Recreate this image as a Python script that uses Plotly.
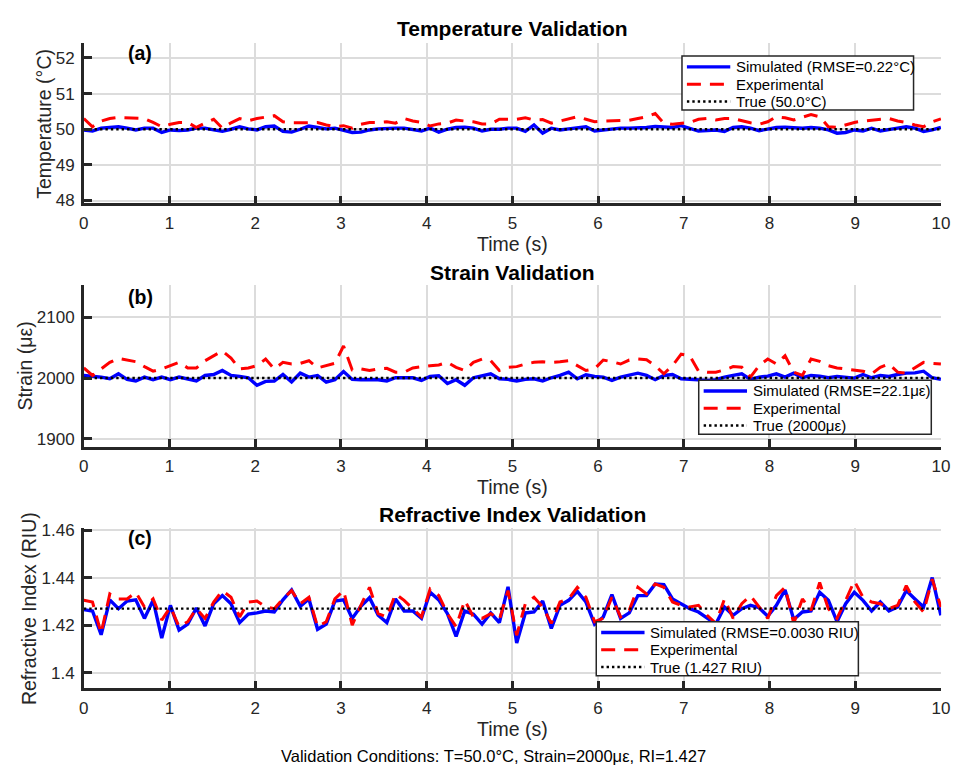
import numpy as np
import plotly.graph_objects as go

# Time base: 100 samples over 10 s
time_s = np.linspace(0, 10, 100)

# Temperature (°C)
temp_true = 50.0
temp_sim = [49.98, 49.95, 50.03, 50.05, 50.07, 50.03, 49.98, 50.03, 50.03, 49.91,
            49.98, 49.96, 49.98, 50.03, 50.03, 49.98, 49.94, 50.00, 50.07, 50.01,
            49.98, 50.07, 50.09, 49.94, 49.92, 50.00, 50.09, 50.05, 50.01, 50.03,
            49.98, 49.91, 49.92, 49.98, 50.01, 50.03, 50.03, 50.03, 49.98, 49.95,
            50.03, 49.92, 50.00, 50.05, 50.06, 50.03, 49.95, 50.00, 50.00, 50.03,
            50.03, 49.94, 50.12, 49.89, 50.03, 49.98, 50.01, 50.05, 50.07, 49.95,
            49.98, 50.01, 50.03, 50.03, 50.03, 50.05, 50.08, 50.07, 50.05, 50.10,
            50.03, 49.95, 49.96, 49.98, 49.94, 50.05, 50.07, 50.03, 49.96, 50.01,
            50.05, 50.06, 50.05, 50.03, 50.05, 50.03, 49.98, 49.89, 49.91, 49.98,
            49.95, 50.03, 49.95, 50.00, 50.03, 50.07, 50.03, 49.94, 49.98, 50.05]
temp_exp = [50.30, 50.07, 50.23, 50.30, 50.33, 50.32, 50.33, 50.30, 50.19, 50.07,
            50.14, 50.19, 50.19, 50.05, 50.17, 50.28, 50.03, 50.18, 50.30, 50.24,
            50.30, 50.35, 50.38, 50.21, 50.18, 50.18, 50.19, 50.19, 50.12, 50.07,
            50.10, 50.03, 50.14, 50.19, 50.19, 50.21, 50.17, 50.30, 50.23, 50.19,
            50.09, 50.15, 50.17, 50.26, 50.23, 50.21, 50.15, 50.15, 50.28, 50.28,
            50.28, 50.32, 50.26, 50.27, 50.17, 50.23, 50.28, 50.35, 50.28, 50.21,
            50.23, 50.23, 50.23, 50.25, 50.30, 50.35, 50.44, 50.17, 50.14, 50.17,
            50.19, 50.28, 50.30, 50.26, 50.30, 50.30, 50.23, 50.18, 50.14, 50.21,
            50.35, 50.32, 50.26, 50.33, 50.41, 50.35, 50.07, 50.05, 50.12, 50.19,
            50.23, 50.26, 50.29, 50.30, 50.23, 50.19, 50.12, 50.07, 50.21, 50.29]

# Strain (µε)
strain_true = 2000
strain_sim = [2004.3, 2003.2, 2001.6, 1998.9, 2007.0, 1997.8, 1995.2, 2001.6, 1997.3, 2001.6,
              1997.3, 2001.6, 1997.8, 1995.2, 2004.3, 2005.9, 2012.4, 2004.3, 2002.7, 2000.5,
              1988.2, 1994.6, 1995.2, 2005.9, 1993.5, 2008.1, 2001.6, 2004.3, 1993.5, 1997.3,
              2010.8, 1997.8, 1997.3, 1997.3, 1997.3, 1995.2, 2000.5, 2000.5, 2000.5, 1996.2,
              2002.7, 2003.8, 1990.9, 1997.3, 1988.2, 2000.5, 2004.3, 2007.0, 1998.9, 1997.8,
              1995.2, 1997.8, 1998.9, 1995.2, 2000.5, 2004.3, 2009.7, 1998.9, 2005.4, 2002.7,
              2001.6, 1996.2, 2001.6, 2004.3, 2008.1, 2004.3, 1997.3, 2004.3, 2005.9, 1998.9,
              1997.8, 1997.3, 1996.2, 1997.3, 2001.6, 2004.3, 2007.0, 1997.8, 2001.6, 2003.2,
              2007.0, 2001.6, 2008.1, 2000.5, 2004.3, 2003.2, 2000.5, 2002.7, 2001.6, 2000.0,
              2005.9, 2000.5, 2004.3, 2002.7, 2005.9, 2008.1, 2008.6, 2011.3, 2000.5, 1997.8]
strain_exp = [2016.7, 2004.3, 2015.0, 2025.8, 2032.3, 2029.6, 2026.9, 2018.8, 2011.3, 2015.1,
              2020.4, 2025.8, 2016.7, 2016.7, 2028.5, 2036.6, 2044.6, 2032.8, 2015.1, 2016.7,
              2020.4, 2031.2, 2015.1, 2025.8, 2023.1, 2024.2, 2028.5, 2016.7, 2020.4, 2024.2,
              2052.7, 2013.4, 2015.1, 2012.4, 2015.1, 2016.1, 2009.7, 2009.7, 2016.7, 2018.8,
              2020.4, 2021.5, 2025.8, 2017.7, 2012.4, 2025.8, 2031.2, 2028.5, 2012.4, 2017.7,
              2018.8, 2023.1, 2025.8, 2026.9, 2025.8, 2026.9, 2028.5, 2020.4, 2012.4, 2015.1,
              2029.6, 2026.9, 2023.1, 2029.6, 2031.2, 2030.1, 2020.4, 2007.0, 2020.4, 2039.2,
              2036.6, 2011.3, 2009.7, 2009.7, 2013.4, 2018.8, 2017.7, 2001.6, 2020.4, 2031.2,
              2023.1, 2036.6, 2009.7, 2004.3, 2031.2, 2027.4, 2020.4, 2016.7, 2015.1, 2013.4,
              2011.3, 2007.0, 2017.7, 2023.1, 2009.7, 2008.1, 2016.7, 2025.8, 2024.2, 2023.1]

# Refractive index (RIU)
ri_true = 1.427
ri_sim = [1.4266, 1.4260, 1.4160, 1.4307, 1.4270, 1.4302, 1.4307, 1.4229, 1.4305, 1.4146,
          1.4284, 1.4180, 1.4205, 1.4273, 1.4197, 1.4291, 1.4325, 1.4291, 1.4211, 1.4247,
          1.4252, 1.4260, 1.4256, 1.4307, 1.4349, 1.4280, 1.4311, 1.4183, 1.4205, 1.4302,
          1.4307, 1.4229, 1.4280, 1.4316, 1.4242, 1.4211, 1.4311, 1.4260, 1.4260, 1.4229,
          1.4339, 1.4307, 1.4249, 1.4153, 1.4260, 1.4247, 1.4205, 1.4252, 1.4211, 1.4362,
          1.4125, 1.4252, 1.4256, 1.4302, 1.4187, 1.4284, 1.4305, 1.4343, 1.4298, 1.4205,
          1.4235, 1.4329, 1.4229, 1.4252, 1.4325, 1.4325, 1.4374, 1.4371, 1.4311, 1.4291,
          1.4270, 1.4256, 1.4229, 1.4205, 1.4277, 1.4242, 1.4270, 1.4284, 1.4274, 1.4238,
          1.4284, 1.4349, 1.4224, 1.4256, 1.4260, 1.4339, 1.4305, 1.4215, 1.4291, 1.4339,
          1.4305, 1.4260, 1.4298, 1.4260, 1.4277, 1.4346, 1.4311, 1.4277, 1.4401, 1.4242]
ri_exp = [1.4305, 1.4298, 1.4166, 1.4332, 1.4311, 1.4311, 1.4339, 1.4277, 1.4311, 1.4222,
          1.4277, 1.4194, 1.4215, 1.4270, 1.4229, 1.4298, 1.4346, 1.4318, 1.4235, 1.4298,
          1.4302, 1.4277, 1.4270, 1.4311, 1.4346, 1.4291, 1.4318, 1.4194, 1.4215, 1.4311,
          1.4346, 1.4201, 1.4284, 1.4360, 1.4249, 1.4235, 1.4332, 1.4305, 1.4270, 1.4235,
          1.4353, 1.4325, 1.4249, 1.4194, 1.4305, 1.4235, 1.4229, 1.4249, 1.4224, 1.4346,
          1.4158, 1.4291, 1.4318, 1.4277, 1.4208, 1.4298, 1.4311, 1.4360, 1.4318, 1.4215,
          1.4229, 1.4318, 1.4235, 1.4263, 1.4360, 1.4332, 1.4374, 1.4360, 1.4298, 1.4284,
          1.4277, 1.4284, 1.4242, 1.4208, 1.4311, 1.4229, 1.4291, 1.4325, 1.4277, 1.4229,
          1.4325, 1.4360, 1.4208, 1.4311, 1.4263, 1.4380, 1.4270, 1.4229, 1.4305, 1.4387,
          1.4318, 1.4298, 1.4291, 1.4270, 1.4284, 1.4367, 1.4298, 1.4256, 1.4394, 1.4277]

panels = [
    dict(sim=temp_sim, exp=temp_exp, true=temp_true,
         names=["Simulated (RMSE=0.22°C)", "Experimental", "True (50.0°C)"],
         title="Temperature Validation", ylabel="Temperature (°C)", tag="(a)",
         yrange=[47.92, 52.41], yticks=[48, 49, 50, 51, 52], yticktext=None),
    dict(sim=strain_sim, exp=strain_exp, true=strain_true,
         names=["Simulated (RMSE=22.1με)", "Experimental", "True (2000με)"],
         title="Strain Validation", ylabel="Strain (με)", tag="(b)",
         yrange=[1887, 2153], yticks=[1900, 2000, 2100], yticktext=None),
    dict(sim=ri_sim, exp=ri_exp, true=ri_true,
         names=["Simulated (RMSE=0.0030 RIU)", "Experimental", "True (1.427 RIU)"],
         title="Refractive Index Validation", ylabel="Refractive Index (RIU)", tag="(c)",
         yrange=[1.3934, 1.4608], yticks=[1.40, 1.42, 1.44, 1.46],
         yticktext=["1.4", "1.42", "1.44", "1.46"]),
]

W, H = 960, 774
FONT = "Liberation Sans, Arial, sans-serif"
INK = "#262626"
GRID = "#dcdcdc"

SIM_LINE = dict(color="#0000ff", width=3.4)
EXP_LINE = dict(color="#ff0000", width=3, dash="14px,9px")
TRUE_LINE = dict(color="black", width=2.4, dash="2.4px,3px")

# pixel layout of each axes box: (top, bottom); shared left/right
x_left, x_right = 80, 950
boxes = [(37, 200), (283, 448), (531, 694)]
legend_boxes = [(687, 922, 50), (704, 940, 380), (600, 866, 626)]  # left, right, top
ylabel_x = [40, 20, 25]
tag_y = [47, 295, 541]
title_y = [22, 270, 517]


def px(x):
    return x / W


def py(y):
    return 1 - y / H


fig = go.Figure()
layout = dict(
    width=W, height=H, margin=dict(l=0, r=0, t=0, b=0),
    paper_bgcolor="white", plot_bgcolor="white",
    font=dict(family=FONT, color=INK),
    showlegend=False,
    annotations=[], shapes=[],
)

for i, p in enumerate(panels):
    n = i + 1
    xa = "x" if n == 1 else f"x{n}"
    ya = "y" if n == 1 else f"y{n}"
    true_line = [p["true"]] * len(time_s)

    fig.add_trace(go.Scatter(x=time_s, y=p["sim"], mode="lines", name=p["names"][0],
                             line=SIM_LINE, xaxis=xa, yaxis=ya))
    fig.add_trace(go.Scatter(x=time_s, y=p["exp"], mode="lines", name=p["names"][1],
                             line=EXP_LINE, xaxis=xa, yaxis=ya))
    fig.add_trace(go.Scatter(x=time_s, y=true_line, mode="lines", name=p["names"][2],
                             line=TRUE_LINE, xaxis=xa, yaxis=ya))

    top, bot = boxes[i]
    axis_common = dict(showline=True, linecolor=INK, linewidth=2.5, mirror=False,
                       ticks="inside", ticklen=8, tickwidth=2.5, tickcolor=INK,
                       showgrid=True, gridcolor=GRID, gridwidth=2, zeroline=False,
                       tickfont=dict(family=FONT, size=17, color=INK))
    layout["xaxis" if n == 1 else f"xaxis{n}"] = dict(
        domain=[px(x_left), px(x_right)], anchor=ya, range=[0, 10.003],
        tickmode="array", tickvals=list(range(0, 11)), ticklabelstandoff=2, **axis_common)
    yax = dict(domain=[py(bot), py(top)], anchor=xa, range=p["yrange"],
               tickmode="array", tickvals=p["yticks"], ticklabelstandoff=3, **axis_common)
    if p["yticktext"]:
        yax["ticktext"] = p["yticktext"]
    layout["yaxis" if n == 1 else f"yaxis{n}"] = yax

    # legend panel: framed box, line samples and entry labels
    L, R, T = legend_boxes[i]
    layout["shapes"].append(dict(type="rect", xref="paper", yref="paper",
                                 x0=px(L), x1=px(R), y0=py(T + 55), y1=py(T),
                                 fillcolor="white", line=dict(color=INK, width=1.5),
                                 layer="above"))
    for j, style in enumerate([SIM_LINE, EXP_LINE, TRUE_LINE]):
        ry = T + 11 + j * 17.6
        layout["shapes"].append(dict(type="line", xref="paper", yref="paper",
                                     x0=px(L + 5), x1=px(L + 49), y0=py(ry), y1=py(ry),
                                     line=style, layer="above"))
        layout["annotations"].append(dict(text=p["names"][j], x=px(L + 53), y=py(ry),
                                          xref="paper", yref="paper", xanchor="left",
                                          yanchor="middle", showarrow=False,
                                          font=dict(family=FONT, size=15, color="black")))

    cx = (x_left + x_right) / 2
    layout["annotations"] += [
        dict(text=f"<b>{p['title']}</b>", x=px(cx), y=py(title_y[i]), xref="paper",
             yref="paper", xanchor="center", yanchor="middle", showarrow=False,
             font=dict(family=FONT, size=21, color="black")),
        dict(text=f"<b>{p['tag']}</b>", x=px(137), y=py(tag_y[i]), xref="paper", yref="paper",
             xanchor="center", yanchor="middle", showarrow=False,
             font=dict(family=FONT, size=19.5, color="black")),
        dict(text="Time (s)", x=px(cx), y=py(bot + 41), xref="paper", yref="paper",
             xanchor="center", yanchor="middle", showarrow=False,
             font=dict(family=FONT, size=19.5, color=INK)),
        dict(text=p["ylabel"], x=px(ylabel_x[i]), y=py((top + bot) / 2), xref="paper",
             yref="paper", xanchor="center", yanchor="middle", textangle=-90,
             showarrow=False, font=dict(family=FONT, size=19.5, color=INK)),
    ]

# footnote kept fully inside the bottom edge of the figure
layout["annotations"].append(
    dict(text="Validation Conditions: T=50.0°C, Strain=2000με, RI=1.427",
         x=px(496), y=0, xref="paper", yref="paper", xanchor="center",
         yanchor="bottom", borderpad=0, yshift=1, showarrow=False,
         font=dict(family=FONT, size=16.5, color="black")))

fig.update_layout(**layout)
fig.write_html("out.html")
